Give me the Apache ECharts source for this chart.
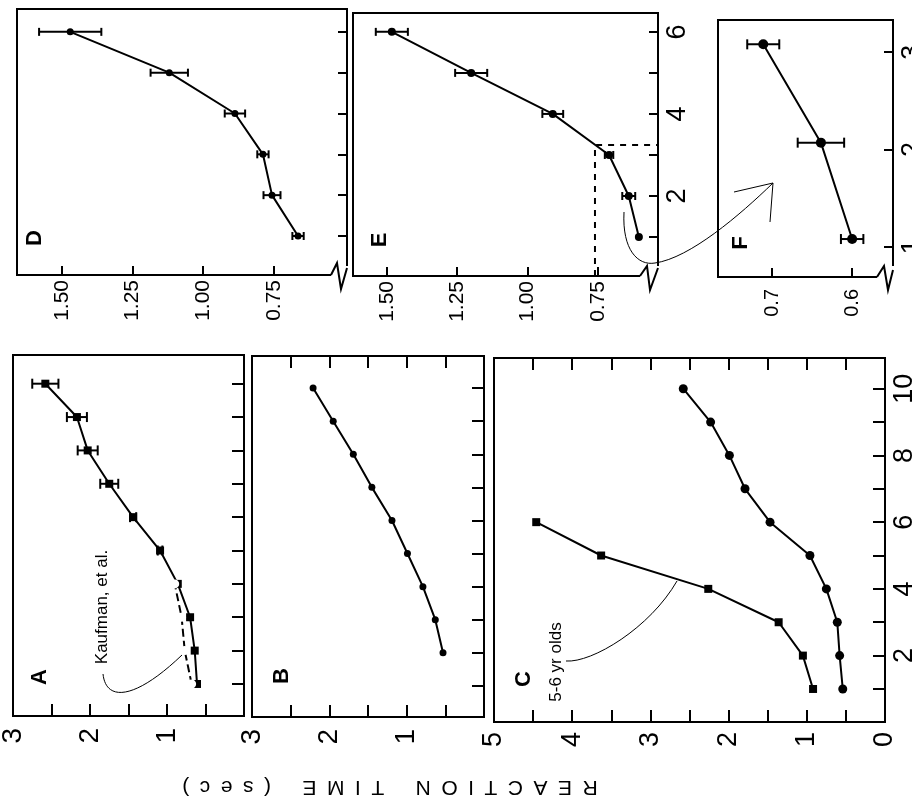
<!DOCTYPE html>
<html>
<head>
<meta charset="utf-8">
<script src="https://cdn.jsdelivr.net/npm/echarts@6.0.0/dist/echarts.min.js"></script>
<style>
html,body{margin:0;padding:0;background:#fff}
#chart{width:912px;height:808px}
</style>
</head>
<body>
<div id="chart"></div>
<script>
// panel D
var dSizes=[1,2,3,4,5,6];
var dTimes=[0.665,0.757,0.789,0.888,1.12,1.47];
var dErrs=[0.02,0.03,0.02,0.036,0.066,0.11];
// panel E
var eSizes=[1,2,3,4,5,6];
var eTimes=[0.604,0.64,0.71,0.91,1.20,1.482];
var eErrs=[0,0.023,0.015,0.037,0.057,0.057];
// panel F (close-up of E, sizes 1-3)
var fSizes=[1.08,2.07,3.08];
var fTimes=[0.60,0.639,0.711];
var fErrs=[0.014,0.029,0.02];
// panel A
var aSizes=[1,2,3,4,5,6,7,8,9,10];
var aTimes=[0.61,0.64,0.70,0.86,1.09,1.44,1.75,2.03,2.17,2.58];
var aErrs=[0,0,0,0,0.03,0.04,0.117,0.13,0.13,0.17];
var kaufSizes=[1,2,3,4];
var kaufTimes=[0.68,0.77,0.81,0.90];
// panel B
var bSizes=[2,3,4,5,6,7,8,9,10];
var bTimes=[0.53,0.63,0.79,0.99,1.19,1.45,1.69,1.95,2.21];
// panel C
var youngSizes=[1,2,3,4,5,6];
var youngTimes=[0.92,1.05,1.36,2.26,3.63,4.46];
var cSizes=[1,2,3,4,5,6,7,8,9,10];
var cTimes=[0.54,0.58,0.61,0.75,0.96,1.47,1.79,1.99,2.23,2.58];
// ticks
var deTimeTicks=[0.75,1.00,1.25,1.50];
var fTimeTicks=[0.6,0.7];
var abTimeTicks=[0.5,1,1.5,2,2.5];
var abTimeLabels=[1,2,3];
var cTimeTicks=[0.5,1,1.5,2,2.5,3,3.5,4,4.5];
var cTimeLabels=[0,1,2,3,4,5];
var sizeTicks6=[1,2,3,4,5,6];
var eSizeLabels=[2,4,6];
var fSizeTicks=[1,2,3];
var sizeTicks10=[1,2,3,4,5,6,7,8,9,10];
var cSizeLabels=[2,4,6,8,10];

var FONT="Liberation Sans";
var chart=echarts.init(document.getElementById('chart'));

var panels=[
	{box:[17,9,330,266],x:[0.492,1.658],y:[0.044,6.56],tt:deTimeTicks,tl:deTimeTicks,dec:2,fs:21,mg:5,st:sizeTicks6,sl:[],tick:9},
	{box:[353,13,305,263],x:[0.536,1.62],y:[0.05,6.46],tt:deTimeTicks,tl:deTimeTicks,dec:2,fs:21,mg:5,st:sizeTicks6,sl:eSizeLabels,tick:9},
	{box:[718,20,175,257],x:[0.549,0.7675],y:[0.69,3.33],tt:fTimeTicks,tl:fTimeTicks,dec:1,fs:20,mg:12,st:fSizeTicks,sl:fSizeTicks,tick:9},
	{box:[13,355,231,361],x:[0,3],y:[0.04,10.86],tt:abTimeTicks,tl:abTimeLabels,dec:0,fs:28,mg:12,st:sizeTicks10,sl:[],tick:12},
	{box:[252,356,232,361],x:[0,3],y:[0.06,10.97],tt:abTimeTicks,tl:abTimeLabels,dec:0,fs:28,mg:12,st:sizeTicks10,sl:[],tick:12,top:true},
	{box:[494,358,391,364],x:[0,5],y:[0.01,10.92],tt:cTimeTicks,tl:cTimeLabels,dec:0,fs:27,mg:10,st:sizeTicks10,sl:cSizeLabels,tick:12,top:true}
];

var grids=[],xAxes=[],yAxes=[];
panels.forEach(function(p,i){
	grids.push({left:p.box[0],top:p.box[1],width:p.box[2],height:p.box[3],show:true,
		borderColor:'#000',borderWidth:2,backgroundColor:'transparent',containLabel:false,outerBoundsMode:'none'});
	xAxes.push({type:'value',gridIndex:i,inverse:true,position:'bottom',min:p.x[0],max:p.x[1],
		axisLine:{show:false},splitLine:{show:false},
		axisTick:{inside:true,length:p.tick,lineStyle:{color:'#000',width:2},customValues:p.tt},
		axisLabel:{rotate:90,margin:p.mg,color:'#000',fontFamily:FONT,fontSize:p.fs,customValues:p.tl,
			formatter:function(v){return v.toFixed(p.dec);}}});
	yAxes.push({type:'value',gridIndex:i,position:'right',min:p.y[0],max:p.y[1],
		axisLine:{show:false},splitLine:{show:false},
		axisTick:{inside:true,length:p.tick,lineStyle:{color:'#000',width:2},customValues:p.st},
		axisLabel:{show:p.sl.length>0,rotate:90,margin:6,color:'#000',fontFamily:FONT,fontSize:27,customValues:p.sl.length?p.sl:[1],
			formatter:function(v){return String(Math.round(v));}}});
});
// top tick rows for B and C
panels.forEach(function(p,i){
	if(!p.top) return;
	xAxes.push({type:'value',gridIndex:i,inverse:true,position:'top',min:p.x[0],max:p.x[1],
		axisLine:{show:false},splitLine:{show:false},axisLabel:{show:false},
		axisTick:{inside:true,length:p.tick,lineStyle:{color:'#000',width:2},customValues:p.tt}});
});

function pairs(times,sizes){
	return sizes.map(function(s,i){return [times[i],s];});
}
function lineSeries(i,times,sizes,symbol,size,dashed){
	return {type:'line',xAxisIndex:i,yAxisIndex:i,data:pairs(times,sizes),
		symbol:symbol,symbolSize:size,showSymbol:true,silent:true,
		itemStyle:{color:symbol=='emptyCircle'?'#fff':'#000',borderColor:'#000',borderWidth:symbol=='emptyCircle'?1.5:0},
		lineStyle:{color:'#000',width:2,type:dashed?'dashed':'solid'},z:3};
}
function errSeries(i,times,sizes,errs,cap){
	return {type:'custom',xAxisIndex:i,yAxisIndex:i,silent:true,z:4,
		data:sizes.map(function(s,k){return [times[k],s,errs[k]];}),
		renderItem:function(params,api){
			var v=api.value(0),s=api.value(1),e=api.value(2);
			if(!e) return;
			var lo=api.coord([v-e,s]),hi=api.coord([v+e,s]);
			var st={stroke:'#000',lineWidth:2};
			return {type:'group',children:[
				{type:'line',shape:{x1:lo[0],y1:lo[1],x2:hi[0],y2:hi[1]},style:st},
				{type:'line',shape:{x1:lo[0],y1:lo[1]-cap,x2:lo[0],y2:lo[1]+cap},style:st},
				{type:'line',shape:{x1:hi[0],y1:hi[1]-cap,x2:hi[0],y2:hi[1]+cap},style:st}
			]};
		}};
}

// dashed zoom box in E around sizes 1-3
var zoomBoxTime=0.76, zoomBoxSize=3.24;

var series=[
	lineSeries(0,dTimes,dSizes,'circle',7),
	errSeries(0,dTimes,dSizes,dErrs,4),
	lineSeries(1,eTimes,eSizes,'circle',8),
	errSeries(1,eTimes,eSizes,eErrs,4),
	{type:'line',xAxisIndex:1,yAxisIndex:1,symbol:'none',silent:true,
		data:[[zoomBoxTime,panels[1].y[0]],[zoomBoxTime,zoomBoxSize],[panels[1].x[0],zoomBoxSize]],
		lineStyle:{color:'#000',width:2,type:[6,6]}},
	lineSeries(2,fTimes,fSizes,'circle',10),
	errSeries(2,fTimes,fSizes,fErrs,5),
	lineSeries(3,aTimes,aSizes,'rect',8),
	errSeries(3,aTimes,aSizes,aErrs,5),
	lineSeries(3,kaufTimes,kaufSizes,'emptyCircle',7,true),
	lineSeries(4,bTimes,bSizes,'circle',7),
	lineSeries(5,youngTimes,youngSizes,'rect',8),
	lineSeries(5,cTimes,cSizes,'circle',9)
];

function label(t,x,y,size,bold,rot){
	return {type:'text',x:x,y:y,rotation:rot,z:100,
		style:{text:t,fill:'#000',fontFamily:FONT,fontSize:size,fontWeight:bold?'bold':'normal',align:'center',verticalAlign:'middle'}};
}
function thin(shape,type){
	return {type:type||'bezierCurve',z:100,shape:shape,style:{stroke:'#000',lineWidth:1,fill:null}};
}
function brk(pts,mask){
	return [
		{type:'rect',z:99,shape:{x:mask[0],y:mask[1],width:mask[2],height:mask[3]},style:{fill:'#fff'}},
		{type:'polyline',z:100,shape:{points:pts},style:{stroke:'#000',lineWidth:2,fill:null}}
	];
}
var Q=Math.PI/2;
var graphics=[
	label('D',35,238,22,true,Q),
	label('E',380,240,22,true,Q),
	label('F',741,243,22,true,Q),
	label('A',40,677,22,true,Q),
	label('B',282,676,22,true,Q),
	label('C',524,679,22,true,Q),
	label('Kaufman, et al.',102,607,17,false,Q),
	label('5-6 yr olds',556,662,17,false,Q),
	label('R\u2002E\u2002A\u2002C\u2002T\u2002I\u2002O\u2002N\u2002\u2002\u2002T\u2002I\u2002M\u2002E\u2002\u2002\u2002(\u2002s\u2002e\u2002c\u2002)',390,787,21,false,Math.PI),
	thin({x1:103,y1:674,cpx1:106,cpy1:702,cpx2:135,cpy2:700,x2:182,y2:655}),
	thin({x1:566,y1:661,cpx1:592,cpy1:663,cpx2:650,cpy2:628,x2:677,y2:581}),
	thin({x1:624,y1:212,cpx1:622,cpy1:250,cpx2:638,cpy2:266,x2:655,y2:263}),
	thin({x1:655,y1:263,cpx1:690,cpy1:258,cpx2:740,cpy2:215,x2:773,y2:183}),
	thin({points:[[734,192],[773,183],[770,222]]},'polyline')
].concat(
	brk([[331,275],[337,263],[341,289],[347,268]],[331,266,18,14]),
	brk([[640,276],[647,266],[650,290],[658,268]],[640,266,20,14]),
	brk([[877,277],[884,266],[888,290],[893,270]],[877,266,18,14])
);

chart.setOption({
	animation:false,
	backgroundColor:'#fff',
	grid:grids,
	xAxis:xAxes,
	yAxis:yAxes,
	series:series,
	graphic:graphics
});
</script>
</body>
</html>
